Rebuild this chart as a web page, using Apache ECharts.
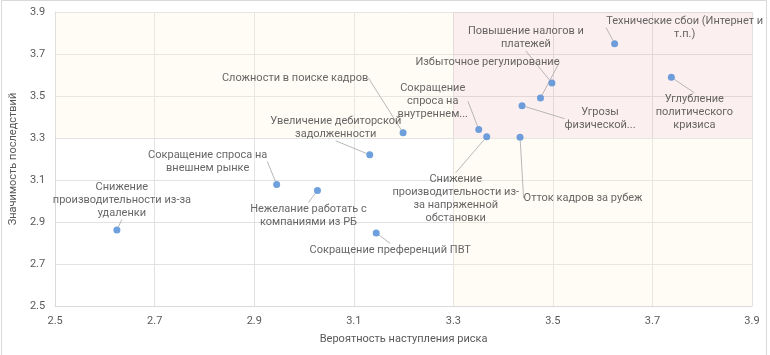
<!DOCTYPE html>
<html>
<head>
<meta charset="utf-8">
<script src="https://cdn.jsdelivr.net/npm/echarts@6/dist/echarts.min.js"></script>
<style>
html,body{margin:0;padding:0;background:#fff;}
#c{width:770px;height:355px;}
</style>
</head>
<body>
<div id="c"></div>
<script>
var riskNames = [
  'Снижение\nпроизводительности из-за\nудаленки',
  'Сокращение спроса на\nвнешнем рынке',
  'Нежелание работать с\nкомпаниями из РБ',
  'Сокращение преференций ПВТ',
  'Увеличение дебиторской\nзадолженности',
  'Сложности в поиске кадров',
  'Сокращение\nспроса на\nвнутреннем...',
  'Снижение\nпроизводительности из-\nза напряженной\nобстановки',
  'Отток кадров за рубеж',
  'Угрозы\nфизической...',
  'Избыточное регулирование',
  'Повышение налогов и\nплатежей',
  'Технические сбои (Интернет и\nт.п.)',
  'Углубление\nполитического\nкризиса'
];
var probability = [2.624, 2.945, 3.027, 3.145, 3.132, 3.199, 3.351, 3.367, 3.434, 3.438, 3.475, 3.498, 3.624, 3.738];
var significance = [2.862, 3.079, 3.050, 2.848, 3.220, 3.325, 3.341, 3.306, 3.303, 3.454, 3.490, 3.562, 3.749, 3.589];
var tickValues = [2.5, 2.7, 2.9, 3.1, 3.3, 3.5, 3.7, 3.9];

// label offsets (pixels) relative to each point
var labelOffsets = [
  [5, -30], [-69, -23], [-9, 25], [14, 17], [-34, -27], [-108, -55], [-46, -28],
  [-31, 62], [63, 61], [78, 13], [-53, -36], [-26, -45], [70, -16], [23, 35]
];

var points = probability.map(function (p, i) { return [p, significance[i], riskNames[i]]; });

var font = 'Roboto, "Liberation Sans", sans-serif';
var chart = echarts.init(document.getElementById('c'), null, {renderer: 'canvas'});
chart.setOption({
  animation: false,
  graphic: [{
    type: 'rect', z: 100, silent: true,
    shape: {x: 1.5, y: 0.5, width: 765, height: 370},
    style: {fill: 'none', stroke: '#D9D9D9', lineWidth: 1}
  }],
  grid: {left: 54, right: 18, top: 12, bottom: 49},
  xAxis: {
    type: 'value', min: tickValues[0], max: tickValues[tickValues.length - 1], interval: 0.2,
    name: 'Вероятность наступления риска', nameLocation: 'middle', nameGap: 28,
    nameTextStyle: {color: '#595959', fontSize: 11, fontFamily: font},
    axisLine: {show: true, lineStyle: {color: '#D9D9D9'}},
    axisTick: {show: false},
    axisLabel: {color: '#595959', fontSize: 11, fontFamily: font, margin: 10,
      formatter: function (v) { return v.toFixed(1); }},
    splitLine: {show: true, lineStyle: {color: '#E2E2E2', width: 1}}
  },
  yAxis: {
    type: 'value', min: tickValues[0], max: tickValues[tickValues.length - 1], interval: 0.2,
    name: 'Значимость последствий', nameLocation: 'middle', nameGap: 28,
    nameTextStyle: {color: '#595959', fontSize: 11, fontFamily: font},
    axisLine: {show: true, lineStyle: {color: '#D9D9D9'}},
    axisTick: {show: false},
    axisLabel: {color: '#595959', fontSize: 11, fontFamily: font, margin: 10,
      formatter: function (v) { return v.toFixed(1); }},
    splitLine: {show: true, lineStyle: {color: '#E2E2E2', width: 1}}
  },
  series: [{
    type: 'scatter',
    data: points,
    symbolSize: 7,
    itemStyle: {color: '#4A88D4'},
    label: {
      show: true, position: 'inside',
      formatter: function (p) { return p.data[2]; },
      color: '#404040', fontSize: 11, fontFamily: font, lineHeight: 13,
      align: 'center', verticalAlign: 'middle'
    },
    labelLine: {show: true, lineStyle: {color: '#A6A6A6', width: 0.8}},
    labelLayout: function (params) {
      var o = labelOffsets[params.dataIndex];
      return {dx: o[0], dy: o[1]};
    },
    markArea: {
      silent: true,
      label: {show: false},
      data: [
        [{xAxis: 2.5, yAxis: 3.3, itemStyle: {color: 'rgba(253,242,212,0.25)'}}, {xAxis: 3.3, yAxis: 3.9}],
        [{xAxis: 3.3, yAxis: 3.3, itemStyle: {color: 'rgba(240,175,180,0.2)'}}, {xAxis: 3.9, yAxis: 3.9}],
        [{xAxis: 3.3, yAxis: 2.5, itemStyle: {color: 'rgba(253,242,212,0.25)'}}, {xAxis: 3.9, yAxis: 3.3}]
      ]
    }
  }]
});
</script>
</body>
</html>
